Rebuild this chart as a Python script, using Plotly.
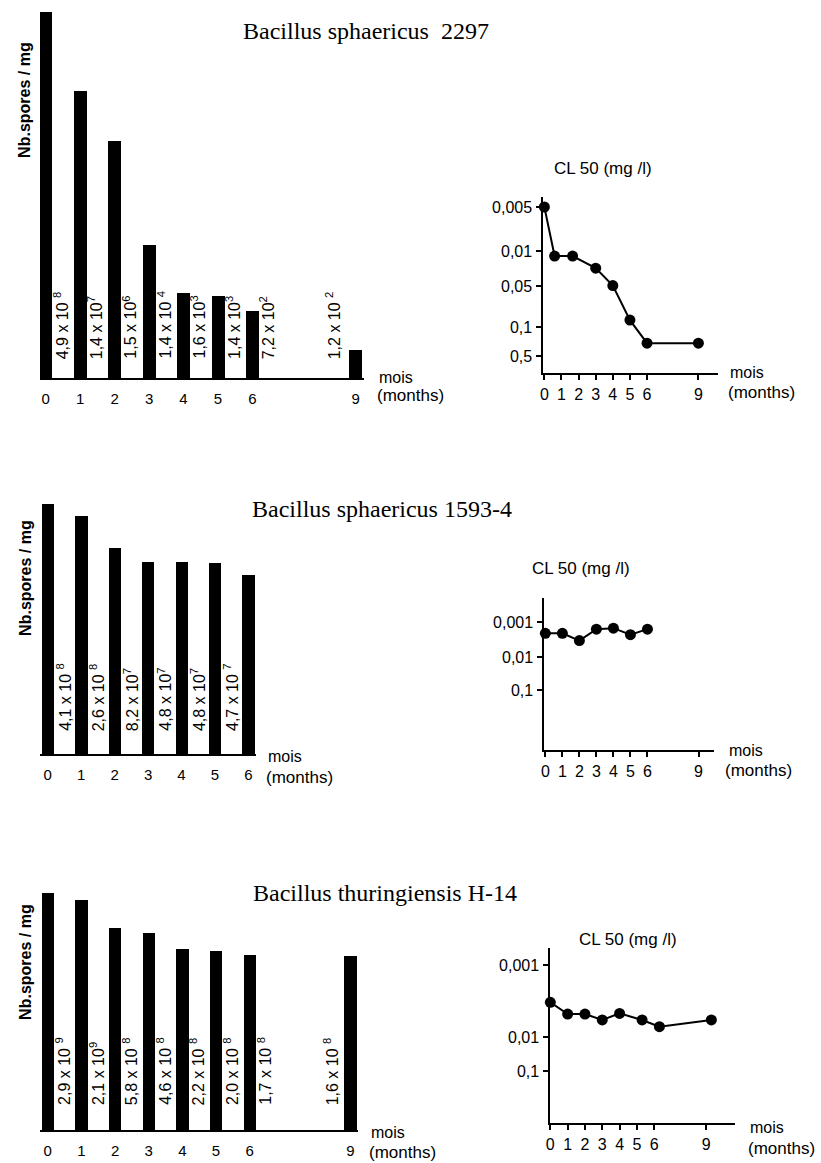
import math
import plotly.graph_objects as go

# ------------------------------------------------------------------ data
months_a = [0, 1, 2, 3, 4, 5, 6, 9]
spores_a = [4.9e8, 1.4e7, 1.5e6, 1.4e4, 1.6e3, 1.4e3, 7.2e2, 1.2e2]
labels_a = ["4,9 x 10 <sup>8</sup>", "1,4 x 10<sup>7</sup>", "1,5 x 10<sup>6</sup>",
            "1,4 x 10 <sup>4</sup>", "1,6 x 10<sup>3</sup>", "1,4 x 10<sup>3</sup>",
            "7,2 x 10<sup>2</sup>", "1,2 x 10 <sup>2</sup>"]
cl_months_a = [0, 0.6, 1.65, 3, 4, 5, 6, 9]
cl50_a = [0.005, 0.0126, 0.0126, 0.022, 0.049, 0.089, 0.245, 0.245]
cl_ticks_a = [0.005, 0.01, 0.05, 0.1, 0.5]
cl_ticktext_a = ["0,005", "0,01", "0,05", "0,1", "0,5"]

months_b = [0, 1, 2, 3, 4, 5, 6]
spores_b = [4.1e8, 2.6e8, 8.2e7, 4.8e7, 4.8e7, 4.7e7, 3.0e7]
labels_b = ["4,1 x 10 <sup>8</sup>", "2,6 x 10 <sup>8</sup>", "8,2 x 10<sup>7</sup>",
            "4,8 x 10<sup>7</sup>", "4,8 x 10<sup>7</sup>", "4,7 x 10 <sup>7</sup>"]
cl_months_b = [0, 1, 2, 3, 4, 5, 6]
cl50_b = [0.0021, 0.0021, 0.0034, 0.0016, 0.0015, 0.0023, 0.0016]
cl_ticks_b = [0.001, 0.01, 0.1]
cl_ticktext_b = ["0,001", "0,01", "0,1"]

months_c = [0, 1, 2, 3, 4, 5, 6, 9]
spores_c = [2.9e9, 2.1e9, 5.8e8, 4.6e8, 2.2e8, 2.0e8, 1.7e8, 1.6e8]
labels_c = ["2,9 x 10 <sup>9</sup>", "2,1 x 10<sup>9</sup>", "5,8 x 10 <sup>8</sup>",
            "4,6 x 10 <sup>8</sup>", "2,2 x 10 <sup>8</sup>", "2,0 x 10 <sup>8</sup>",
            "1,7 x 10 <sup>8</sup>", "1,6 x 10 <sup>8</sup>"]
cl_months_c = [0, 1, 2, 3, 4, 5.3, 6.3, 9.3]
cl50_c = [0.0033, 0.0048, 0.0048, 0.0058, 0.0047, 0.0058, 0.0072, 0.0058]
cl_ticks_c = [0.001, 0.01, 0.1]
cl_ticktext_c = ["0,001", "0,01", "0,1"]

cl_month_ticks = [0, 1, 2, 3, 4, 5, 6, 9]

titles = ["Bacillus sphaericus  2297", "Bacillus sphaericus 1593-4",
          "Bacillus thuringiensis H-14"]

# ------------------------------------------------------------------ layout helpers
W, H = 821, 1163
SANS = "Liberation Sans, Arial, sans-serif"
SERIF = "Liberation Serif, Times New Roman, serif"


def fx(p):
    return p / W


def fy(p):
    return 1 - p / H


def ydom(top, bottom):
    return [fy(bottom), fy(top)]


def hand_axis(v, ticks, tick_px):
    """map a CL50 value onto the hand-drawn (piecewise log) axis"""
    lv = math.log10(v)
    lt = [math.log10(t) for t in ticks]
    for i in range(len(lt) - 1):
        if lv <= lt[i + 1] or i == len(lt) - 2:
            f = (lv - lt[i]) / (lt[i + 1] - lt[i])
            return tick_px[i] + f * (tick_px[i + 1] - tick_px[i])


fig = go.Figure()
ann = []

bar_panels = [
    dict(m=months_a, v=spores_a, lab=labels_a, ax="", xpx=(36, 362), x0=42, s=34.6,
         ypx=(12, 378), a=51.2, b=1.54, lab_bottom=361, title_y=31, title_x=238,
         ylab_y=100, mois_x=375, mois_y=377, months_y=396,
         lx=[m + 0.45 for m in months_a[:-1]] + [months_a[-1] - 0.65]),
    dict(m=months_b, v=spores_b, lab=labels_b, ax="3", xpx=(36, 253), x0=44, s=33.6,
         ypx=(500, 754), a=62.6, b=4.62, lab_bottom=733, title_y=509, title_x=247,
         ylab_y=578, mois_x=263, mois_y=756, months_y=777,
         lx=[m + 0.48 for m in months_b[:-1]]),
    dict(m=months_c, v=spores_c, lab=labels_c, ax="5", xpx=(36, 356), x0=44, s=33.8,
         ypx=(886, 1130), a=50.4, b=4.757, lab_bottom=1107, title_y=893, title_x=248,
         ylab_y=962, mois_x=367, mois_y=1132, months_y=1152,
         lx=[m + 0.45 for m in months_c[:-1]] + [months_c[-1] - 0.57]),
]

for i, p in enumerate(bar_panels):
    ax = p["ax"]
    fig.add_trace(go.Bar(x=p["m"], y=p["v"], width=0.37, marker_color="black",
                         marker_line_width=0, xaxis="x" + ax, yaxis="y" + ax))
    xr = [(p["xpx"][0] - p["x0"]) / p["s"], (p["xpx"][1] - p["x0"]) / p["s"]]
    yh = p["ypx"][1] - p["ypx"][0]
    fig.layout["xaxis" + ax] = dict(
        domain=[fx(p["xpx"][0]), fx(p["xpx"][1])], range=xr, anchor="y" + ax,
        showline=True, linecolor="black", linewidth=2, ticks="", showgrid=False,
        zeroline=False, tickvals=p["m"], ticktext=[str(m) for m in p["m"]],
        tickfont=dict(family=SANS, size=15, color="black"), ticklabelstandoff=6)
    fig.layout["yaxis" + ax] = dict(
        domain=ydom(*p["ypx"]), type="log", range=[p["b"], p["b"] + yh / p["a"]],
        anchor="x" + ax, visible=False)
    for x, t in zip(p["lx"], p["lab"]):
        ann.append(dict(x=x, xref="x" + ax, y=fy(p["lab_bottom"]), yref="paper",
                        text=t, textangle=-90, showarrow=False, xanchor="center",
                        yanchor="bottom", font=dict(family=SANS, size=16, color="black")))
    ann.append(dict(x=fx(p["title_x"]), y=fy(p["title_y"]), xref="paper", yref="paper",
                    text=titles[i], showarrow=False, xanchor="left", yanchor="middle",
                    font=dict(family=SERIF, size=24, color="black")))
    ann.append(dict(x=fx(21), y=fy(p["ylab_y"]), xref="paper", yref="paper",
                    text="<b>Nb.spores / mg</b>", textangle=-90, showarrow=False,
                    xanchor="center", yanchor="middle",
                    font=dict(family=SANS, size=16, color="black")))
    ann.append(dict(x=fx(p["mois_x"]), y=fy(p["mois_y"]), xref="paper", yref="paper",
                    text="mois", showarrow=False, xanchor="left", yanchor="middle",
                    font=dict(family=SANS, size=16, color="black")))
    ann.append(dict(x=fx(p["mois_x"] - 2), y=fy(p["months_y"]), xref="paper", yref="paper",
                    text="(months)", showarrow=False, xanchor="left", yanchor="middle",
                    font=dict(family=SANS, size=17, color="black")))

cl_panels = [
    dict(m=cl_months_a, v=cl50_a, ticks=cl_ticks_a, tt=cl_ticktext_a, ax="2",
         tick_px=[207, 251, 286, 327, 356], xpx=(542, 717), x0=543, s=17.2,
         ypx=(197, 373), title=(602, 168), mois=(728, 373), months=(726, 393)),
    dict(m=cl_months_b, v=cl50_b, ticks=cl_ticks_b, tt=cl_ticktext_b, ax="4",
         tick_px=[622, 657, 690], xpx=(543, 713), x0=544, s=17.1,
         ypx=(598, 750), title=(580, 568), mois=(727, 750), months=(723, 770)),
    dict(m=cl_months_c, v=cl50_c, ticks=cl_ticks_c, tt=cl_ticktext_c, ax="6",
         tick_px=[965, 1037, 1071], xpx=(549, 735), x0=549, s=17.4,
         ypx=(948, 1123), title=(627, 940), mois=(748, 1127), months=(746, 1148)),
]

for p in cl_panels:
    ax = p["ax"]
    ypos = [hand_axis(v, p["ticks"], p["tick_px"]) for v in p["v"]]
    fig.add_trace(go.Scatter(x=p["m"], y=ypos, mode="lines+markers", cliponaxis=False,
                             line=dict(color="black", width=2),
                             marker=dict(color="black", size=11),
                             xaxis="x" + ax, yaxis="y" + ax))
    xr = [(p["xpx"][0] - p["x0"]) / p["s"], (p["xpx"][1] - p["x0"]) / p["s"]]
    fig.layout["xaxis" + ax] = dict(
        domain=[fx(p["xpx"][0]), fx(p["xpx"][1])], range=xr, anchor="y" + ax,
        showline=True, linecolor="black", linewidth=2, ticks="outside", ticklen=5,
        tickwidth=1.5, tickcolor="black", showgrid=False, zeroline=False,
        tickvals=cl_month_ticks, ticktext=[str(m) for m in cl_month_ticks],
        tickfont=dict(family=SANS, size=16, color="black"), ticklabelstandoff=1)
    fig.layout["yaxis" + ax] = dict(
        domain=ydom(*p["ypx"]), range=[p["ypx"][1], p["ypx"][0]], anchor="x" + ax,
        showline=True, linecolor="black", linewidth=2, ticks="outside", ticklen=5,
        tickwidth=1.5, tickcolor="black", showgrid=False, zeroline=False,
        tickvals=p["tick_px"], ticktext=p["tt"],
        tickfont=dict(family=SANS, size=16, color="black"), ticklabelstandoff=1)
    ann.append(dict(x=fx(p["title"][0]), y=fy(p["title"][1]), xref="paper", yref="paper",
                    text="CL 50 (mg /l)", showarrow=False, xanchor="center",
                    yanchor="middle", font=dict(family=SANS, size=17, color="black")))
    ann.append(dict(x=fx(p["mois"][0]), y=fy(p["mois"][1]), xref="paper", yref="paper",
                    text="mois", showarrow=False, xanchor="left", yanchor="middle",
                    font=dict(family=SANS, size=16, color="black")))
    ann.append(dict(x=fx(p["months"][0]), y=fy(p["months"][1]), xref="paper",
                    yref="paper", text="(months)", showarrow=False, xanchor="left",
                    yanchor="middle", font=dict(family=SANS, size=17, color="black")))

fig.update_layout(width=W, height=H, autosize=False, margin=dict(l=0, r=0, t=0, b=0),
                  paper_bgcolor="white", plot_bgcolor="white", showlegend=False,
                  annotations=ann, bargap=0, hovermode=False)

fig.write_html("out.html", config={"displayModeBar": False},
               post_script="document.body.style.margin='0';"
                           "document.body.style.overflow='hidden';")
